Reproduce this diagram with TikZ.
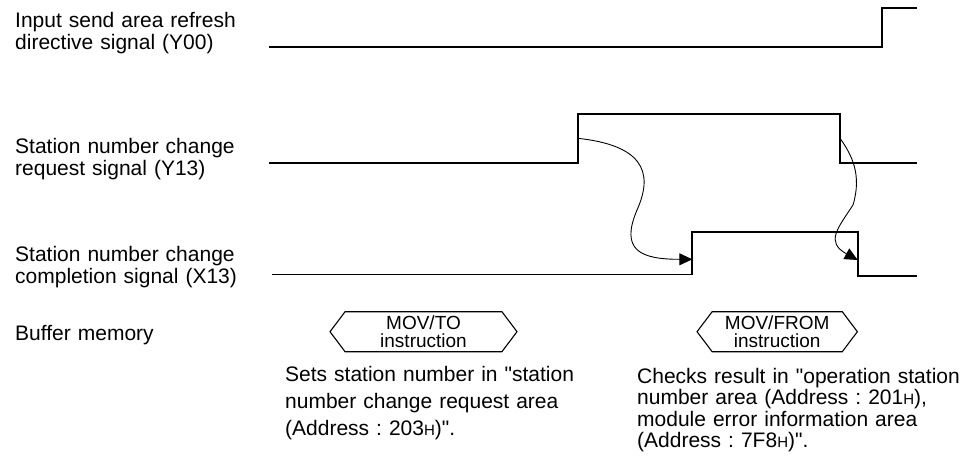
\documentclass[tikz,border=0pt]{standalone}
\usepackage{fontspec}
\setmainfont{Liberation Sans}[Ligatures=TeXOff]
\usetikzlibrary{arrows.meta,shapes.symbols}
\newcommand{\smallH}{{\fontsize{15}{15}\selectfont H}}
\frenchspacing
\begin{document}
\begin{tikzpicture}[x=1pt,y=-1pt,
  sig/.style={line width=1.8pt, line join=miter},
  lbl/.style={anchor=base west, inner sep=0pt, text width=400pt, align=left, font=\fontsize{21}{22}\selectfont\frenchspacing},
  hexbox/.style={draw, line width=1.1pt, shape=signal, signal to=west and east, signal pointer angle=106, minimum width=187pt, minimum height=40pt, inner sep=0pt, align=center, font=\fontsize{19}{17.5}\selectfont},
  flow/.style={line width=0.9pt, -{Triangle[length=13pt,width=12pt]}}]
\useasboundingbox (0,0) rectangle (971,466);

% signal waveforms
\draw[sig] (269.3,46.7) -- (882.3,46.7) -- (882.3,8.3) -- (916.7,8.3);
\draw[sig] (269.3,163) -- (577.7,163) -- (577.7,114) -- (840,114) -- (840,163) -- (916.7,163);
\draw[sig] (271.7,274.5) -- (692.3,274.5) -- (692.3,232.3) -- (857.7,232.3) -- (857.7,276) -- (916.7,276);

% labels
\node[lbl] (ly00) at (15,27.7) {Input send area refresh\\directive signal (Y00)};
\node[lbl] (ly13) at (15,153.3) {Station number change\\request signal (Y13)};
\node[lbl] (lx13) at (15,261.7) {Station number change\\completion signal (X13)};
\node[lbl] (lbuf) at (15,340) {Buffer memory};

% instruction boxes
\node[hexbox] (hto) at (423.5,331.7) {MOV/TO\\instruction};
\node[hexbox, minimum width=160.3pt] (hfrom) at (777.2,331.7) {MOV/FROM\\instruction};

% descriptions
\node[lbl, font=\fontsize{21}{27}\selectfont\frenchspacing] (dto) at (285,381.5) {Sets station number in "station\\number change request area\\(Address : 203\smallH)".};
\node[lbl, font=\fontsize{21}{21.5}\selectfont\frenchspacing] (dfrom) at (637,383) {Checks result in "operation station\\number area (Address : 201\smallH),\\module error information area\\(Address : 7F8\smallH)".};

% causal arrows
\coordinate (a1s) at (577.7,138.3);
\coordinate (a1e) at (692.3,259.3);
\coordinate (a2s) at (840,138.3);
\coordinate (a2e) at (857.7,260);
\draw[flow] (a1s) .. controls (640,145) and (655,170) .. (637,210) .. controls (620,250) and (640,259.3) .. (a1e);
\draw[flow] (a2s) .. controls (852,155) and (862,175) .. (853,205) .. controls (838,228) and (825,242) .. (a2e);
\end{tikzpicture}
\end{document}
